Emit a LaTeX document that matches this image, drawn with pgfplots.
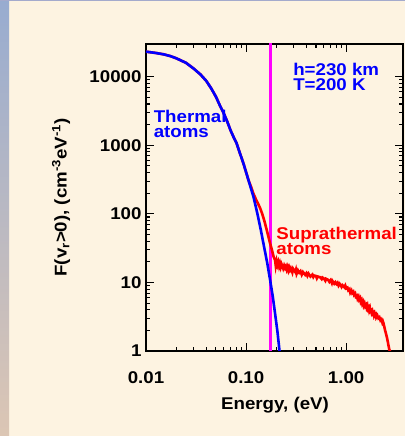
\documentclass[border=0pt]{standalone}
\usepackage{fontspec}
\setmainfont{Liberation Sans}[FakeStretch=1.1]
\usepackage{pgfplots}
\pgfplotsset{compat=1.18}
\definecolor{cream}{HTML}{FDF3E1}
\definecolor{stripTop}{HTML}{98ACD0}
\definecolor{stripMid}{HTML}{C6B6C2}
\definecolor{stripBot}{HTML}{DCC6B4}
\definecolor{topline}{HTML}{A4AACC}
\definecolor{pmag}{RGB}{255,0,255}
\definecolor{pred}{RGB}{255,0,0}
\definecolor{pblue}{RGB}{0,0,255}
\begin{document}
\begin{tikzpicture}
\path[use as bounding box] (0,0) rectangle (405bp,436bp);
\fill[cream] (0,0) rectangle (405bp,436bp);
\shade[top color=stripTop, middle color=stripMid, bottom color=stripBot] (0,0) rectangle (9bp,436bp);
\fill[topline] (0,435bp) rectangle (405bp,436bp);
\begin{axis}[
  at={(146bp,85bp)}, anchor=south west,
  scale only axis, width=257bp, height=307bp,
  xmode=log, ymode=log,
  xmin=0.01, xmax=3.7, ymin=1, ymax=30000,
  axis line style={line width=1.4bp},
  every tick/.style={black, line width=1.1bp},
  tick align=inside,
  xtick pos=both, ytick pos=both,
  major tick length=8bp, minor tick length=4bp,
  xtick={0.01,0.1,1}, xticklabels={0.01,0.10,1.00},
  ytick={1,10,100,1000,10000}, yticklabels={1,10,100,1000,10000},
  tick label style={font=\bfseries\fontsize{17bp}{17bp}\selectfont},
  xticklabel style={anchor=base, yshift=-32bp},
  yticklabel style={anchor=east, xshift=-1bp},
  xlabel={Energy, (eV)},
  ylabel={F(v\textsubscript{r}>0), (cm\textsuperscript{-3}eV\textsuperscript{-1})},
  label style={font=\bfseries\fontsize{17bp}{17bp}\selectfont},
  xlabel style={at={(axis description cs:0.502,-0.192)}, anchor=base},
  ylabel style={at={(axis description cs:-0.33,0.5)}, anchor=center, rotate=0},
  clip=true,
]
\addplot[pmag, line width=3bp] coordinates {(0.174,0.5) (0.174,50000)};
\addplot[pred, line width=2.6bp] coordinates {
(0.010,23200) (0.0125,22200) (0.015,21200) (0.0175,20000) (0.020,18600)
(0.025,16000) (0.030,13100) (0.035,10800) (0.040,8700) (0.045,6700)
(0.050,5100) (0.055,3750) (0.060,2900) (0.065,2200) (0.070,1650)
(0.075,1320) (0.080,1090) (0.087,760) (0.095,520) (0.1057,310)
(0.112,250) (0.118,200) (0.125,165) (0.132,140) (0.138,122)
(0.145,100) (0.152,80) (0.160,60) (0.167,47) (0.174,37)
(0.181,30) (0.188,24) (0.195,21)
(0.198,17.5) (0.202,20.5) (0.206,18) (0.210,19.8) (0.214,17.2) (0.218,19)
(0.222,16.8) (0.226,18.6) (0.23,17.5) (0.235,16) (0.24,17.6) (0.245,16.2)
(0.25,17.2) (0.255,15.4) (0.26,16.8) (0.265,15) (0.27,16.5) (0.275,15.2)
(0.28,16.1) (0.29,14) (0.295,15.8) (0.30,15.2) (0.31,14.2) (0.315,15.3)
(0.32,13.4) (0.33,15) (0.34,13.9) (0.35,14.6) (0.36,13) (0.37,14.2)
(0.38,13.5) (0.39,12.9) (0.40,13.6) (0.41,12.5) (0.42,13.5) (0.43,12.8)
(0.44,12.2) (0.46,13.0) (0.47,12.0) (0.48,12.6) (0.50,12.4) (0.51,11.5)
(0.52,12.2) (0.55,11.9) (0.57,11.2) (0.58,11.8) (0.60,11.4) (0.62,10.6)
(0.63,11.3) (0.66,10.9) (0.68,10.2) (0.70,10.8) (0.72,9.8) (0.73,10.5)
(0.76,9.6) (0.78,10.1) (0.80,9.5) (0.82,9.9) (0.84,9.0) (0.86,9.6)
(0.88,9.2) (0.90,8.6) (0.92,9.1) (0.96,8.5) (0.98,9.0) (1.00,8.2)
(1.03,8.4) (1.05,7.7) (1.08,8.0) (1.10,7.1) (1.13,7.6) (1.15,7.0)
(1.18,7.3) (1.20,6.6) (1.23,6.9) (1.25,6.2) (1.28,6.4) (1.30,5.8)
(1.33,6.2) (1.35,5.6) (1.38,5.9) (1.40,5.2) (1.43,5.5) (1.45,4.9)
(1.48,5.2) (1.50,4.6) (1.53,4.9) (1.55,4.5) (1.58,4.7) (1.60,4.3)
(1.63,4.6) (1.65,4.1) (1.68,4.3) (1.70,3.9) (1.73,4.2) (1.75,3.8)
(1.78,3.9) (1.80,3.6) (1.83,3.8) (1.85,3.5) (1.88,3.6) (1.90,3.3)
(1.93,3.5) (1.95,3.3) (1.98,3.4) (2.00,3.1) (2.05,3.3) (2.10,3.0)
(2.15,3.1) (2.20,2.8) (2.25,2.9) (2.30,2.6) (2.33,2.7) (2.36,2.55)
(2.40,2.3) (2.45,2.0) (2.50,1.8) (2.55,1.6) (2.60,1.4) (2.65,1.2)
(2.70,1.05) (2.78,0.95)
};
\addplot[pblue, line width=2.6bp] coordinates {
(0.010,23200) (0.0125,22200) (0.015,21200) (0.0175,20000) (0.020,18600)
(0.025,16000) (0.030,13100) (0.035,10800) (0.040,8700) (0.045,6700)
(0.050,5100) (0.055,3750) (0.060,2900) (0.065,2200) (0.070,1650)
(0.075,1320) (0.080,1090) (0.087,760) (0.095,520) (0.1057,310)
(0.1186,177) (0.1297,101) (0.1405,58) (0.1514,33) (0.163,19)
(0.174,10.8) (0.185,6.2) (0.195,3.5) (0.206,1.9) (0.216,1.0) (0.222,0.8)
};
\node[pblue, font=\bfseries\fontsize{17bp}{15.5bp}\selectfont, anchor=north west, inner sep=0, align=left] at (axis cs:0.0119,3300) {Thermal\\atoms};
\node[pblue, font=\bfseries\fontsize{17bp}{15.5bp}\selectfont, anchor=north west, inner sep=0, align=left] at (axis cs:0.295,16000) {h=230 km\\T=200 K};
\node[pred, font=\bfseries\fontsize{17bp}{15.5bp}\selectfont, anchor=north west, inner sep=0, align=left] at (axis cs:0.2,65) {Suprathermal\\atoms};
\end{axis}
\end{tikzpicture}
\end{document}
